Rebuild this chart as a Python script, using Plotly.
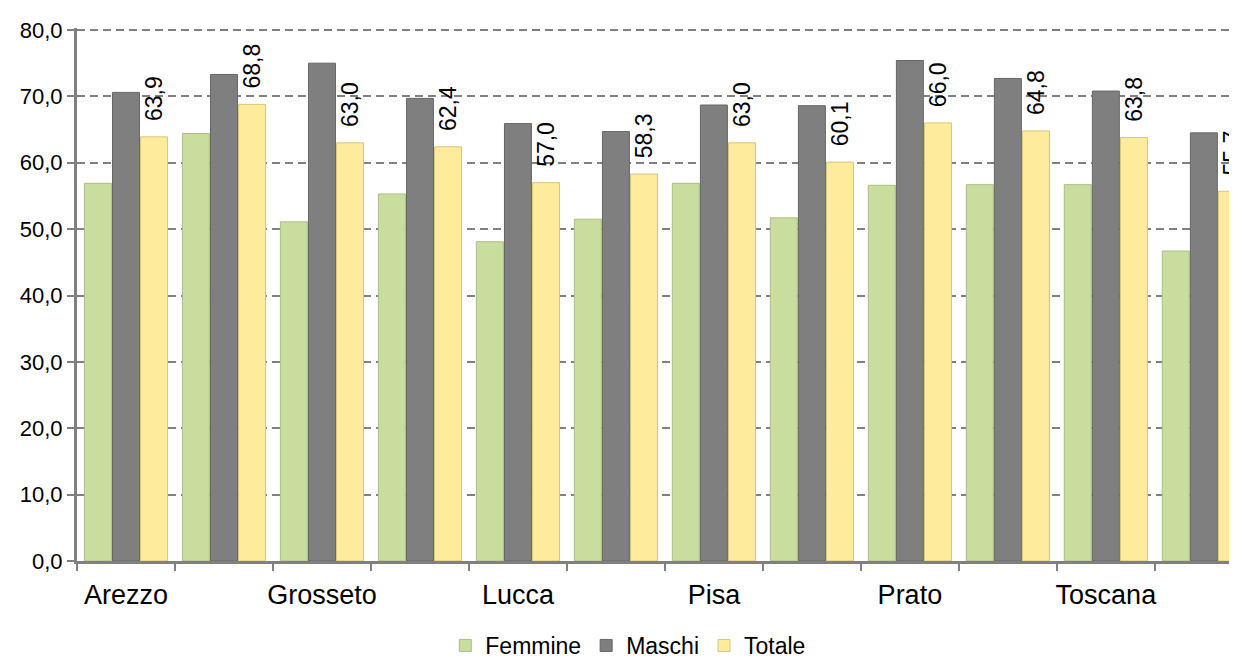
import plotly.graph_objects as go

categories = ["Arezzo", "Firenze", "Grosseto", "Livorno", "Lucca", "Massa-Carrara",
              "Pisa", "Pistoia", "Prato", "Siena", "Toscana", "Italia"]
shown_labels = ["Arezzo", "", "Grosseto", "", "Lucca", "", "Pisa", "", "Prato", "", "Toscana", ""]
femmine = [56.9, 64.4, 51.1, 55.3, 48.1, 51.5, 56.9, 51.7, 56.6, 56.7, 56.7, 46.7]
maschi = [70.6, 73.3, 75.0, 69.7, 65.9, 64.7, 68.7, 68.6, 75.4, 72.7, 70.8, 64.5]
totale = [63.9, 68.8, 63.0, 62.4, 57.0, 58.3, 63.0, 60.1, 66.0, 64.8, 63.8, 55.7]

FONT = "Liberation Sans, Arial, sans-serif"

def fmt(v):
    # leading non-breaking spaces keep the rotated label a little above the bar
    return "\u00a0\u00a0" + f"{v:.1f}".replace(".", ",")

fig = go.Figure()
fig.add_trace(go.Bar(name="Femmine", x=categories, y=femmine,
                     marker=dict(color="#c9dd9f", line=dict(color="#a9bf82", width=1))))
fig.add_trace(go.Bar(name="Maschi", x=categories, y=maschi,
                     marker=dict(color="#7f7f7f", line=dict(color="#666666", width=1))))
fig.add_trace(go.Bar(name="Totale", x=categories, y=totale,
                     text=[fmt(v) for v in totale], textposition="outside",
                     textangle=-90, cliponaxis=False, constraintext="none",
                     textfont=dict(family=FONT, size=23, color="#000000"),
                     marker=dict(color="#ffeb9c", line=dict(color="#d9c57a", width=1))))

fig.update_layout(
    width=1237, height=659,
    margin=dict(l=69, r=0, t=20, b=96),
    paper_bgcolor="white", plot_bgcolor="white",
    barmode="group", bargap=0.14, bargroupgap=0.04,
    font=dict(family=FONT, color="#000000"),
    separators=",.",
    showlegend=True,
    legend=dict(orientation="h", x=0.472, xanchor="center", y=-0.159, yanchor="middle",
                font=dict(family=FONT, size=23), itemwidth=30, tracegroupgap=0),
)
fig.update_yaxes(range=[0, 80.3], tickvals=[0, 10, 20, 30, 40, 50, 60, 70, 80], tickformat=".1f",
                 showgrid=True, gridcolor="#808080", gridwidth=2, griddash="8px,5px",
                 showline=True, linecolor="#808080", linewidth=3,
                 ticks="outside", ticklen=7, tickwidth=2, tickcolor="#808080",
                 tickfont=dict(family=FONT, size=22), zeroline=False)
fig.update_xaxes(type="category", range=[-0.5, 11.42], tickangle=0,
                 tickvals=categories, ticktext=shown_labels, tickson="boundaries",
                 showline=True, linecolor="#808080", linewidth=3,
                 ticks="outside", ticklen=7, tickwidth=2, tickcolor="#808080",
                 ticklabelstandoff=8,
                 tickfont=dict(family=FONT, size=27), showgrid=False)

fig.write_html("out.html")
